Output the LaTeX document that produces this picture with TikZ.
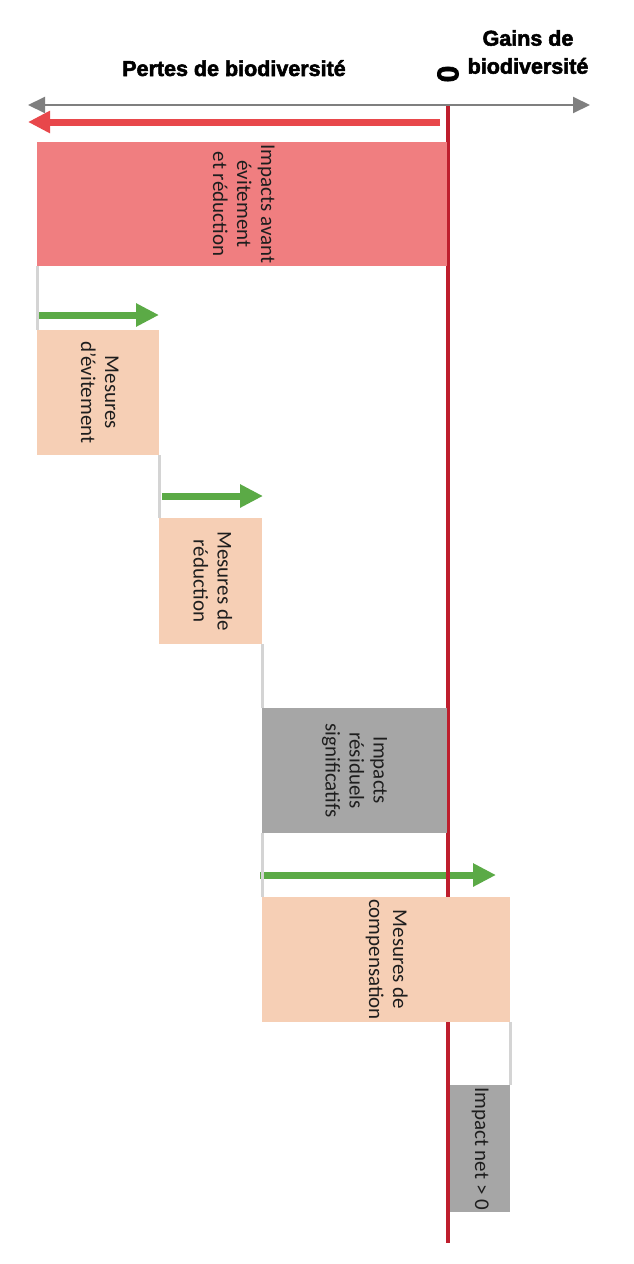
\documentclass[tikz,border=0pt]{standalone}
\usepackage{graphicx}
\usepackage{fontspec}
\setmainfont{Carlito}
\newfontfamily\heavyfont[BoldFeatures={FakeBold=2.5}]{Liberation Sans}
\usetikzlibrary{arrows.meta}
\definecolor{redbox}{HTML}{F07E80}
\definecolor{peach}{HTML}{F6CFB5}
\definecolor{graybox}{HTML}{A6A6A6}
\definecolor{greenarr}{HTML}{5BAA46}
\definecolor{redarr}{HTML}{E8474B}
\definecolor{redline}{HTML}{BE1E2D}
\definecolor{axisgray}{HTML}{7F7F7F}
\definecolor{conngray}{HTML}{D4D4D4}
\definecolor{txt}{HTML}{1E1E1E}
\newcommand\vtext[1]{\rotatebox{-90}{\fontsize{21}{24}\selectfont\color{txt}\begin{tabular}{@{}c@{}}#1\end{tabular}}}
\begin{document}
\begin{tikzpicture}[x=1pt,y=-1pt,
  boxnode/.style={draw=none,inner sep=0pt,outer sep=0pt,anchor=north west},
  conn/.style={draw=conngray,line width=3pt},
  greenarrow/.style={draw=greenarr,line width=7pt,-{Triangle[length=23pt,width=22pt]}},
  redarrow/.style={draw=redarr,line width=7pt,-{Triangle[length=22pt,width=21pt]}},
  axis/.style={draw=axisgray,line width=2pt,{Triangle[length=17pt,width=16pt]}-{Triangle[length=17pt,width=16pt]}},
  zeroline/.style={draw=redline,line width=4.5pt},
  headtext/.style={inner sep=0pt,font=\heavyfont\bfseries\fontsize{21.5}{28}\selectfont,text=black}
]
\useasboundingbox (0,0) rectangle (633,1264);
\fill[white] (0,0) rectangle (633,1264);

% header texts
\node[headtext,anchor=base] (pertes) at (234,76) {Pertes de biodiversité};
\node[headtext,align=center] (gains) at (528,52) {Gains de\\biodiversité};
\node[headtext,rotate=90,font=\heavyfont\bfseries\fontsize{30}{30}\selectfont] (zero) at (448,74) {0};

% axis
\coordinate (axl) at (28,105);
\coordinate (axr) at (590,105);
\draw[axis] (axl) -- (axr);

% red arrow
\coordinate (ras) at (440,122);
\coordinate (rae) at (28,122);
\draw[redarrow] (ras) -- (rae);

% green arrows
\coordinate (g1s) at (37,315);
\coordinate (g1e) at (159,315);
\coordinate (g2s) at (162,496);
\coordinate (g2e) at (263,496);
\coordinate (g3s) at (260,875);
\coordinate (g3e) at (496,875);
\draw[greenarrow] (g1s) -- (g1e);
\draw[greenarrow] (g2s) -- (g2e);
\draw[greenarrow] (g3s) -- (g3e);

% zero line
\coordinate (zt) at (448,106);
\coordinate (zb) at (448,1243);
\draw[zeroline] (zt) -- (zb);

% boxes
\node[boxnode,fill=redbox,minimum width=410pt,minimum height=124pt] (imp) at (37,142)
  {\vtext{Impacts avant\\évitement\\et réduction}};
\node[boxnode,fill=peach,minimum width=122pt,minimum height=125pt] (evit) at (37,330)
  {\vtext{Mesures\\d'évitement}};
\node[boxnode,fill=peach,minimum width=103pt,minimum height=126pt] (reduc) at (159,518)
  {\vtext{Mesures de\\réduction}};
\node[boxnode,fill=graybox,minimum width=185pt,minimum height=125pt] (resid) at (262,708)
  {\vtext{Impacts\\résiduels\\significatifs}};
\node[boxnode,fill=peach,minimum width=248pt,minimum height=125pt] (comp) at (262,897)
  {\vtext{Mesures de\\compensation}};
\node[boxnode,fill=graybox,minimum width=60pt,minimum height=127pt] (net) at (450,1085)
  {\vtext{Impact net > 0}};

% connectors
\draw[conn] (imp.south west) -- (evit.north west);
\draw[conn] (evit.south east) -- (reduc.north west);
\draw[conn] (reduc.south east) -- (resid.north west);
\draw[conn] (resid.south west) -- (comp.north west);
\draw[conn] (comp.south east) -- (net.north east);
\end{tikzpicture}
\end{document}
